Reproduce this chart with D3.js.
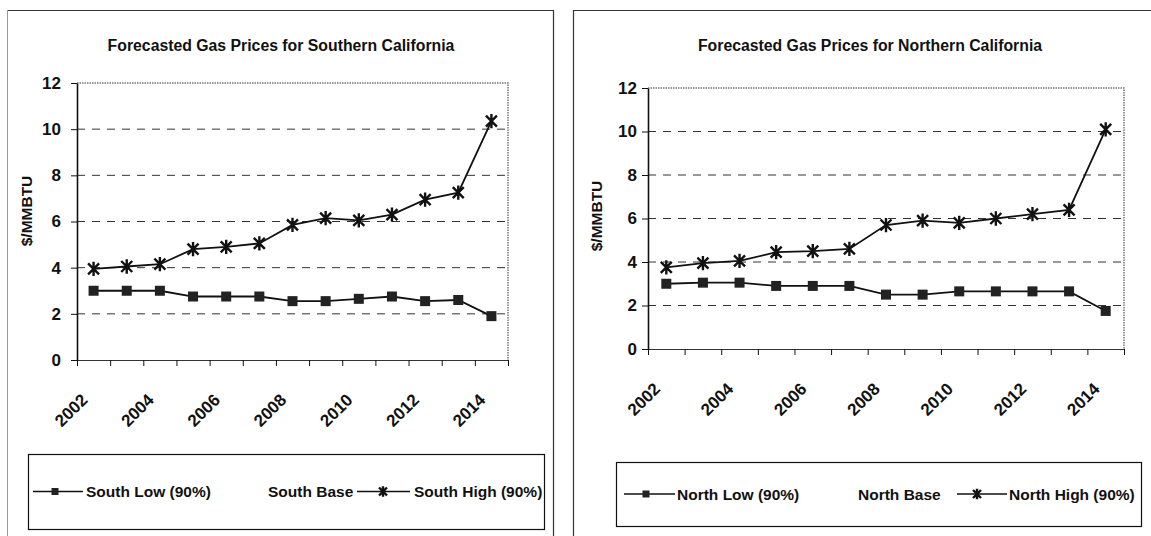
<!DOCTYPE html>
<html>
<head>
<meta charset="utf-8">
<script src="https://cdn.jsdelivr.net/npm/d3@7"></script>
<style>
  body { margin: 0; background: #fff; }
  svg { display: block; font-family: 'Liberation Sans', Arial, sans-serif; }
</style>
</head>
<body>
<svg id="chart" width="1151" height="536"></svg>
<script>
// years along the x axis
const YEARS = [2002, 2003, 2004, 2005, 2006, 2007, 2008, 2009, 2010, 2011, 2012, 2013, 2014];
const YEAR_LABELS = [2002, 2004, 2006, 2008, 2010, 2012, 2014];
const Y_TICKS = [0, 2, 4, 6, 8, 10, 12];
const GRID_VALUES = [2, 4, 6, 8, 10];

// $/MMBTU, southern california
const SOUTH_LOW = [3.0, 3.0, 3.0, 2.75, 2.75, 2.75, 2.55, 2.55, 2.65, 2.75, 2.55, 2.6, 1.9];
const SOUTH_HIGH = [3.95, 4.05, 4.15, 4.8, 4.9, 5.05, 5.85, 6.15, 6.05, 6.3, 6.95, 7.25, 10.35];

// $/MMBTU, northern california
const NORTH_LOW = [3.0, 3.05, 3.05, 2.9, 2.9, 2.9, 2.5, 2.5, 2.65, 2.65, 2.65, 2.65, 1.75];
const NORTH_HIGH = [3.75, 3.95, 4.05, 4.45, 4.5, 4.6, 5.7, 5.9, 5.8, 6.0, 6.2, 6.4, 10.1];

const SOUTH_LEGEND = ['South Low (90%)', 'South Base', 'South High (90%)'];
const NORTH_LEGEND = ['North Low (90%)', 'North Base', 'North High (90%)'];

const SVG = d3.select('#chart');
const INK = '#111';

// layout of the two panels
const PANELS = [
    {
        title: 'Forecasted Gas Prices for Southern California', titleX: 281,
        frame: { x0: 7, x1: 553 },
        left: 77, right: 508, top: 83, bottom: 360,
        yLabelX: 27, yLabelY: 211, tickPad: 10,
        low: SOUTH_LOW, high: SOUTH_HIGH, names: SOUTH_LEGEND,
        legend: { x0: 28, x1: 544, y0: 454, y1: 529, lowLine: [33, 83], lowMark: 55, lowText: 86, baseText: 268, highLine: [357, 410], highMark: 383, highText: 414 }
    },
    {
        title: 'Forecasted Gas Prices for Northern California', titleX: 870,
        frame: { x0: 573, x1: null },
        left: 648, right: 1124, top: 88, bottom: 349,
        yLabelX: 597, yLabelY: 216, tickPad: 5,
        low: NORTH_LOW, high: NORTH_HIGH, names: NORTH_LEGEND,
        legend: { x0: 616, x1: 1141, y0: 462, y1: 526, lowLine: [624, 675], lowMark: 646, lowText: 677, baseText: 858, highLine: [957, 1007], highMark: 977, highText: 1009 }
    }
];

// asterisk marker used for the high series
const STAR = 'M-5,-5L5,5M-5,5L5,-5M0,-6.5V6.5';

function drawSquare(g, x, y, size) {
    g.append('rect')
        .attr('x', x - size / 2).attr('y', y - size / 2)
        .attr('width', size).attr('height', size)
        .attr('fill', '#222');
}

function drawStar(g, x, y, scale) {
    g.append('path')
        .attr('d', STAR)
        .attr('transform', `translate(${x},${y}) scale(${scale})`)
        .attr('fill', 'none')
        .attr('stroke', INK)
        .attr('stroke-width', 2.4 / scale);
}

PANELS.forEach(p => {
    const g = SVG.append('g');

    // panel frame (scanned border)
    g.append('line').attr('x1', p.frame.x0).attr('x2', p.frame.x1 || 1151)
        .attr('y1', 10.5).attr('y2', 10.5).attr('stroke', '#333').attr('stroke-width', 1.2);
    if (p.frame.x1) {
        g.append('line').attr('x1', p.frame.x1 + 0.5).attr('x2', p.frame.x1 + 0.5)
            .attr('y1', 10).attr('y2', 536).attr('stroke', '#333').attr('stroke-width', 1.2);
        g.append('line').attr('x1', p.frame.x0 + 0.5).attr('x2', p.frame.x0 + 0.5)
            .attr('y1', 10).attr('y2', 536).attr('stroke', '#999').attr('stroke-width', 1);
    } else {
        g.append('line').attr('x1', p.frame.x0 + 0.5).attr('x2', p.frame.x0 + 0.5)
            .attr('y1', 10).attr('y2', 536).attr('stroke', '#333').attr('stroke-width', 1.2);
    }

    // title
    g.append('text')
        .attr('x', p.titleX).attr('y', 51)
        .attr('text-anchor', 'middle')
        .style('font-size', '15.8px').style('font-weight', 'bold').style('fill', INK)
        .text(p.title);

    // scales
    const x = d3.scaleBand().domain(YEARS).range([p.left, p.right]).padding(0);
    const xEdge = d3.scaleLinear().domain([0, YEARS.length]).range([p.left, p.right]);
    const y = d3.scaleLinear().domain([0, 12]).range([p.bottom, p.top]);
    const cx = d => x(d) + x.bandwidth() / 2;

    // dashed grid
    g.append('g').selectAll('line')
        .data(GRID_VALUES)
        .join('line')
        .attr('x1', p.left).attr('x2', p.right)
        .attr('y1', d => y(d)).attr('y2', d => y(d))
        .attr('stroke', '#333').attr('stroke-width', 1)
        .attr('stroke-dasharray', '8,7');

    // dotted top and right edges of the plot area
    g.append('path')
        .attr('d', `M${p.left},${p.top}H${p.right}V${p.bottom}`)
        .attr('fill', 'none').attr('stroke', '#777').attr('stroke-width', 1.5)
        .attr('stroke-dasharray', '1.5,1');

    // y axis
    const yAxis = d3.axisLeft(y).tickValues(Y_TICKS).tickSize(6).tickSizeOuter(0).tickPadding(p.tickPad);
    const yG = g.append('g').attr('transform', `translate(${p.left},0)`).call(yAxis);
    yG.select('.domain').attr('stroke', INK).attr('stroke-width', 1.6);
    yG.selectAll('.tick line').attr('stroke', INK);
    yG.selectAll('.tick text')
        .style('font-size', '17px').style('font-weight', 'bold').style('fill', INK)
        .style('font-family', "'Liberation Sans', Arial, sans-serif");

    // x axis, ticks on the category edges
    const xAxis = d3.axisBottom(xEdge).tickValues(d3.range(YEARS.length + 1)).tickSize(6).tickSizeOuter(0).tickFormat('');
    const xG = g.append('g').attr('transform', `translate(0,${p.bottom})`).call(xAxis);
    xG.select('.domain').attr('stroke', '#333').attr('stroke-width', 1.2);
    xG.selectAll('.tick line').attr('stroke', INK);

    // rotated year labels
    g.append('g').selectAll('text')
        .data(YEAR_LABELS)
        .join('text')
        .attr('transform', d => `translate(${cx(d) - 5},${p.bottom + 41}) rotate(-45)`)
        .attr('text-anchor', 'end')
        .style('font-size', '17px').style('font-weight', 'bold').style('fill', INK)
        .text(d => d);

    // y axis title
    g.append('text')
        .attr('transform', `translate(${p.yLabelX + 5},${p.yLabelY}) rotate(-90)`)
        .attr('text-anchor', 'middle')
        .style('font-size', '15.5px').style('font-weight', 'bold').style('fill', INK)
        .text('$/MMBTU');

    // series lines
    const line = d3.line().x((d, i) => cx(YEARS[i])).y(d => y(d));
    [p.low, p.high].forEach(s => {
        g.append('path')
            .datum(s)
            .attr('d', line)
            .attr('fill', 'none').attr('stroke', INK).attr('stroke-width', 1.8);
    });

    // markers
    const mk = g.append('g');
    p.low.forEach((v, i) => drawSquare(mk, cx(YEARS[i]), y(v), 10));
    p.high.forEach((v, i) => drawStar(mk, cx(YEARS[i]), y(v), 1.1));

    // legend
    const L = p.legend;
    const lg = g.append('g');
    lg.append('rect')
        .attr('x', L.x0 + 0.5).attr('y', L.y0 + 0.5)
        .attr('width', L.x1 - L.x0).attr('height', L.y1 - L.y0)
        .attr('fill', 'none').attr('stroke', INK).attr('stroke-width', 1.2);
    const ly = (L.y0 + L.y1) / 2;
    lg.append('line').attr('x1', L.lowLine[0]).attr('x2', L.lowLine[1]).attr('y1', ly).attr('y2', ly)
        .attr('stroke', INK).attr('stroke-width', 1.5);
    drawSquare(lg, L.lowMark, ly, 7);
    lg.append('line').attr('x1', L.highLine[0]).attr('x2', L.highLine[1]).attr('y1', ly).attr('y2', ly)
        .attr('stroke', INK).attr('stroke-width', 1.5);
    drawStar(lg, L.highMark, ly, 0.8);

    lg.selectAll('text')
        .data(p.names)
        .join('text')
        .attr('x', (d, i) => [L.lowText, L.baseText, L.highText][i])
        .attr('y', ly + 5.5)
        .style('font-size', '15.5px').style('font-weight', 'bold').style('fill', INK)
        .text(d => d);
});
</script>
</body>
</html>
